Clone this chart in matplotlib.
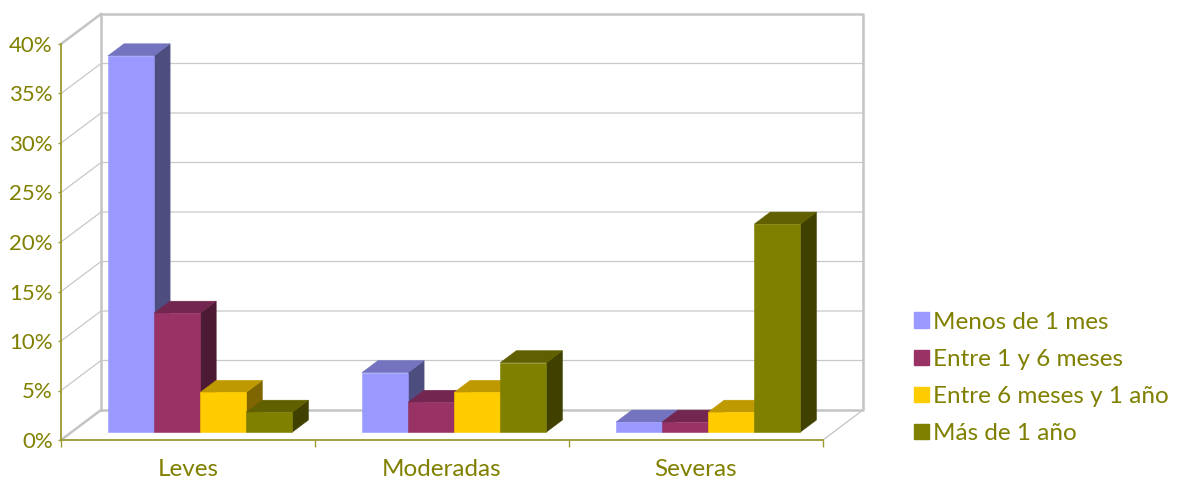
import matplotlib
matplotlib.use("Agg")
import numpy as np
import matplotlib.pyplot as plt
from matplotlib.patches import Patch, Polygon

plt.rcParams["font.family"] = ["Lato", "DejaVu Sans"]

# Chart data
categories = ["Leves", "Moderadas", "Severas"]
series_names = ["Menos de 1 mes", "Entre 1 y 6 meses", "Entre 6 meses y 1 año", "Más de 1 año"]
menos_1_mes = [38, 6, 1]
entre_1_6_meses = [12, 3, 1]
entre_6_12_meses = [4, 4, 2]
mas_1_ano = [2, 7, 21]
y_ticks = [0, 5, 10, 15, 20, 25, 30, 35, 40]

all_series = [menos_1_mes, entre_1_6_meses, entre_6_12_meses, mas_1_ano]

# front, top and side colours for each series
front_colors = ["#9999FF", "#993366", "#FFCC00", "#808000"]
top_colors = ["#7373BF", "#732650", "#BF9900", "#606000"]
side_colors = ["#4D4D80", "#4D1A33", "#806600", "#404000"]

text_color = "#808000"
axis_color = "#9A9A30"
wall_color = "#C4C4C4"
grid_color = "#C8C8C8"

# Depth of the box, in axis units
depth_x = 40 / 254
depth_y = 30 / 9.9
bar_width = 0.1815
bar_front = 8 / 30
bar_back = 20 / 30
group_start = 0.143


def project(x, y, d):
    return (x + d * depth_x, y + d * depth_y)


fig = plt.figure(figsize=(11.77, 4.79), dpi=100)
ax = fig.add_axes((61 / 1177, 1 - 440 / 479, 762 / 1177, 396 / 479))
ax.set_xlim(0, 3)
ax.set_ylim(0, 40)
ax.patch.set_visible(False)

for side in ["top", "right"]:
    ax.spines[side].set_visible(False)
for side in ["left", "bottom"]:
    ax.spines[side].set_color(axis_color)
    ax.spines[side].set_linewidth(1.3)
    ax.spines[side].set_zorder(6)

# Grid lines on the back and side walls
for v in y_ticks[1:-1]:
    x0, y0 = project(0, v, 0)
    x1, y1 = project(0, v, 1)
    x2, y2 = project(3, v, 1)
    ax.plot([x0, x1, x2], [y0, y1, y2], color=grid_color, lw=0.9, clip_on=False, zorder=1)

# Wall outline
x_back = [project(0, 0, 1)[0], project(0, 40, 1)[0], project(3, 40, 1)[0], project(3, 0, 1)[0], project(0, 0, 1)[0]]
y_back = [project(0, 0, 1)[1], project(0, 40, 1)[1], project(3, 40, 1)[1], project(3, 0, 1)[1], project(0, 0, 1)[1]]
ax.plot(x_back, y_back, color=wall_color, lw=1.8, clip_on=False, zorder=2)
for xv, yv, lw in [(0, 40, 1.8), (0, 0, 1.8), (3, 0, 0.9)]:
    x0, y0 = project(xv, yv, 0)
    x1, y1 = project(xv, yv, 1)
    ax.plot([x0, x1], [y0, y1], color=wall_color, lw=lw, clip_on=False, zorder=2)

# Bars, left to right so each one covers the side of the previous
for c in range(len(categories)):
    for s, values in enumerate(all_series):
        left = c + group_start + s * bar_width
        right = left + bar_width
        v = values[c]
        base = 0
        front = [project(left, base, bar_front), project(right, base, bar_front),
                 project(right, v, bar_front), project(left, v, bar_front)]
        top = [project(left, v, bar_front), project(right, v, bar_front),
               project(right, v, bar_back), project(left, v, bar_back)]
        right_side = [project(right, base, bar_front), project(right, base, bar_back),
                      project(right, v, bar_back), project(right, v, bar_front)]
        z = 3 + 0.1 * (c * 4 + s)
        ax.add_patch(Polygon(right_side, facecolor=side_colors[s], edgecolor=side_colors[s], lw=0.4, clip_on=False, zorder=z))
        ax.add_patch(Polygon(top, facecolor=top_colors[s], edgecolor=top_colors[s], lw=0.4, clip_on=False, zorder=z))
        ax.add_patch(Polygon(front, facecolor=front_colors[s], edgecolor=front_colors[s], lw=0.4, clip_on=False, zorder=z))

# Axes and labels
ax.set_yticks(y_ticks)
ax.set_yticklabels([f"{v}%" for v in y_ticks], fontsize=16, color=text_color)
ax.tick_params(axis="y", length=2.5, width=1, color=axis_color, pad=3.5)

ax.set_xticks([0, 1, 2, 3])
ax.set_xticklabels([])
ax.set_xticks([0.5, 1.5, 2.5], minor=True)
ax.set_xticklabels(categories, minor=True, fontsize=17.5, color=text_color)
ax.tick_params(axis="x", which="major", length=5, width=1, color=axis_color)
ax.tick_params(axis="x", which="minor", length=0, pad=13.5)

handles = [Patch(facecolor=c, edgecolor=c) for c in front_colors]
fig.legend(handles, series_names, loc="center left", bbox_to_anchor=(895 / 1177, 1 - 378 / 479),
           frameon=False, fontsize=17.5, labelcolor=text_color, handlelength=0.6, handleheight=0.6,
           handletextpad=0.15, labelspacing=0.665, borderpad=0.3)

fig.savefig("out.png", dpi=100)
